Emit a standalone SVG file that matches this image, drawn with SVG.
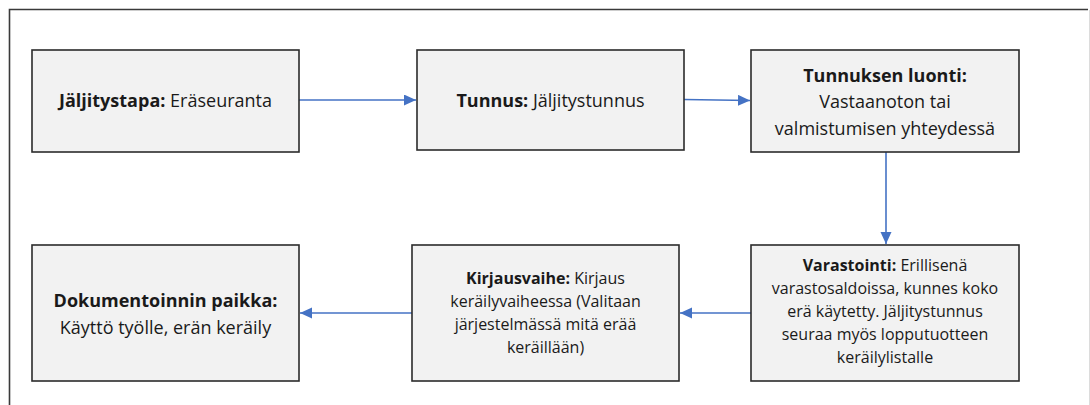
<svg xmlns="http://www.w3.org/2000/svg" width="1090" height="405" viewBox="0 0 1090 405">
  <defs>
    <style>
      .box { fill: #f2f2f2; stroke: #2b2b2b; stroke-width: 1.6; }
      .t { font-family: "Open Sans", "Liberation Sans", sans-serif; fill: #1a1a1a; text-anchor: middle; }
      .big { font-size: 18px; }
      .small { font-size: 16px; }
      .b { font-weight: bold; }
      .link { stroke: #4472c4; stroke-width: 1.6; fill: none; marker-end: url(#head); }
    </style>
    <marker id="head" markerUnits="userSpaceOnUse" markerWidth="13" markerHeight="12" refX="12" refY="5.5" orient="auto">
      <path d="M0,0 L12,5.5 L0,11 Z" fill="#4472c4"/>
    </marker>
  </defs>

  <!-- page frame -->
  <path d="M9.5,405 V9.5 H1088" fill="none" stroke="#3a3a3a" stroke-width="1.6"/>
  <line x1="1089.5" y1="10" x2="1089.5" y2="405" stroke="#dcdcdc" stroke-width="1"/>

  <!-- connectors -->
  <g id="connectors">
    <path class="link" d="M299,100 H416"/>
    <path class="link" d="M684,99.5 L750,100.5"/>
    <path class="link" d="M886,152 V244"/>
    <path class="link" d="M751,313 H680"/>
    <path class="link" d="M412,313 H300"/>
  </g>

  <g id="node-jaljitystapa">
    <rect class="box" x="32" y="50" width="267" height="102"/>
    <text class="t big" x="165.5" y="106.5"><tspan class="b">Jäljitystapa:</tspan> Eräseuranta</text>
  </g>

  <g id="node-tunnus">
    <rect class="box" x="417" y="50" width="267" height="100"/>
    <text class="t big" x="550.5" y="106.5"><tspan class="b">Tunnus:</tspan> Jäljitystunnus</text>
  </g>

  <g id="node-tunnuksen-luonti">
    <rect class="box" x="751" y="50" width="268" height="102"/>
    <text class="t big" x="885" y="81.5"><tspan class="b">Tunnuksen luonti:</tspan></text>
    <text class="t big" x="885" y="108">Vastaanoton tai</text>
    <text class="t big" x="885" y="135">valmistumisen yhteydessä</text>
  </g>

  <g id="node-varastointi">
    <rect class="box" x="751" y="245" width="268" height="136"/>
    <text class="t small" x="885" y="271"><tspan class="b">Varastointi:</tspan> Erillisenä</text>
    <text class="t small" x="885" y="294">varastosaldoissa, kunnes koko</text>
    <text class="t small" x="885" y="317">erä käytetty. Jäljitystunnus</text>
    <text class="t small" x="885" y="340">seuraa myös lopputuotteen</text>
    <text class="t small" x="885" y="363">keräilylistalle</text>
  </g>

  <g id="node-kirjausvaihe">
    <rect class="box" x="412" y="245" width="267" height="136"/>
    <text class="t small" x="545.5" y="284"><tspan class="b">Kirjausvaihe:</tspan> Kirjaus</text>
    <text class="t small" x="545.5" y="307">keräilyvaiheessa (Valitaan</text>
    <text class="t small" x="545.5" y="330">järjestelmässä mitä erää</text>
    <text class="t small" x="545.5" y="353">keräillään)</text>
  </g>

  <g id="node-dokumentointi">
    <rect class="box" x="32" y="245" width="267" height="136"/>
    <text class="t big" x="165.5" y="306.5"><tspan class="b">Dokumentoinnin paikka:</tspan></text>
    <text class="t big" x="165.5" y="334">Käyttö työlle, erän keräily</text>
  </g>
</svg>
